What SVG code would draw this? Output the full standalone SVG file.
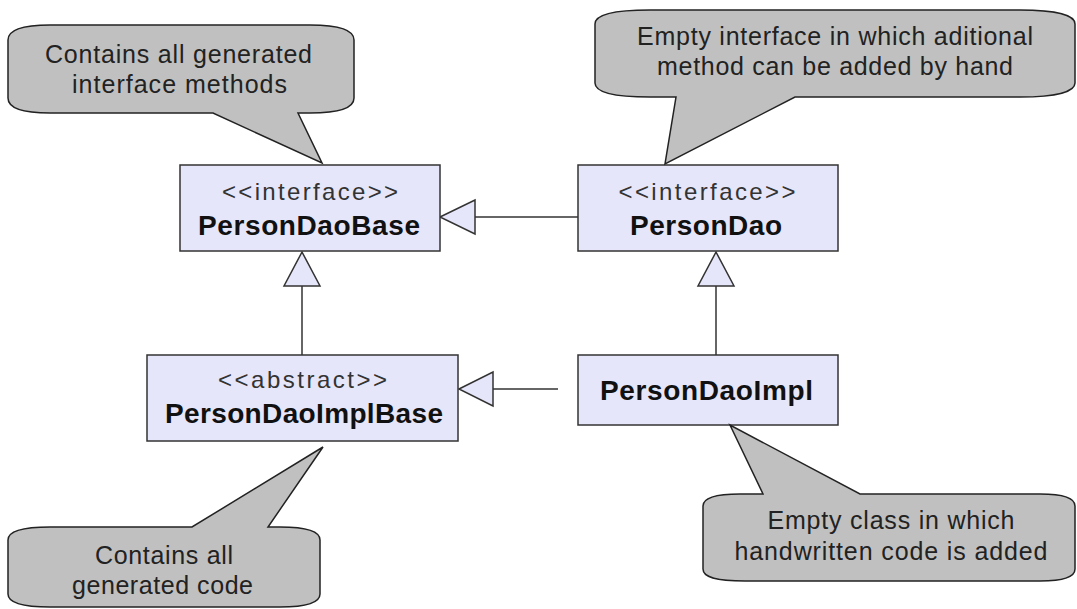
<svg xmlns="http://www.w3.org/2000/svg" width="1077" height="609" viewBox="0 0 1077 609">
<style>
.box{fill:#E6E6FA;stroke:#333;stroke-width:1.5}
.tri{fill:#E6E6FA;stroke:#333;stroke-width:1.5;stroke-linejoin:miter}
.ln{stroke:#333;stroke-width:1.5;fill:none}
.note{fill:#C0C0C0;stroke:#222;stroke-width:1.5;stroke-linejoin:miter}
.st{font-family:"Liberation Sans",Arial,sans-serif;font-size:24px;fill:#333;text-anchor:middle}
.nm{font-family:"Liberation Sans",Arial,sans-serif;font-size:28px;font-weight:bold;fill:#111;text-anchor:middle}
.nt{font-family:"Liberation Sans",Arial,sans-serif;font-size:25px;fill:#222;text-anchor:middle}
</style>
<rect width="1077" height="609" fill="#fff"/>
<g id="connectors">
<line class="ln" x1="475" y1="217" x2="578" y2="217"/>
<polygon class="tri" points="440,217 475,200 475,234"/>
<line class="ln" x1="302" y1="286" x2="302" y2="355"/>
<polygon class="tri" points="302,252 284,286 320,286"/>
<line class="ln" x1="716" y1="286" x2="716" y2="355"/>
<polygon class="tri" points="716,252 698,286 734,286"/>
<line class="ln" x1="493" y1="389" x2="558" y2="389"/>
<polygon class="tri" points="459,389 493,372 493,406"/>
</g>
<g id="PersonDaoBase">
<rect class="box" x="180" y="165" width="260" height="86"/>
<text class="st" x="310" y="200" textLength="176" lengthAdjust="spacing">&lt;&lt;interface&gt;&gt;</text>
<text class="nm" x="309" y="235" textLength="222" lengthAdjust="spacing">PersonDaoBase</text>
</g>
<g id="PersonDao">
<rect class="box" x="578" y="165" width="260" height="86"/>
<text class="st" x="707" y="200" textLength="177" lengthAdjust="spacing">&lt;&lt;interface&gt;&gt;</text>
<text class="nm" x="706" y="235" textLength="152" lengthAdjust="spacing">PersonDao</text>
</g>
<g id="PersonDaoImplBase">
<rect class="box" x="147" y="355" width="311" height="86"/>
<text class="st" x="302.5" y="388" textLength="169" lengthAdjust="spacing">&lt;&lt;abstract&gt;&gt;</text>
<text class="nm" x="304" y="423" textLength="278" lengthAdjust="spacing">PersonDaoImplBase</text>
</g>
<g id="PersonDaoImpl">
<rect class="box" x="578" y="355" width="260" height="70"/>
<text class="nm" x="706.5" y="400" textLength="213" lengthAdjust="spacing">PersonDaoImpl</text>
</g>
<g id="note1">
<path class="note" d="M50,25 H310 C340,25 354,30 354,40 V98 C354,108 340,113 310,113 H298 L322,163 L213,113 H50 C22,113 8,108 8,98 V40 C8,30 22,25 50,25 Z"/>
<text class="nt" x="178.5" y="63" textLength="267" lengthAdjust="spacing">Contains all generated</text>
<text class="nt" x="179.5" y="93" textLength="215" lengthAdjust="spacing">interface methods</text>
</g>
<g id="note2">
<path class="note" d="M650,10 H1020 C1055,10 1075,15 1075,24 V83 C1075,92 1055,97 1020,97 H795 L665,164 L676,97 H650 C612,97 595,92 595,83 V24 C595,15 612,10 650,10 Z"/>
<text class="nt" x="835" y="45" textLength="396" lengthAdjust="spacing">Empty interface in which aditional</text>
<text class="nt" x="835" y="75" textLength="356" lengthAdjust="spacing">method can be added by hand</text>
</g>
<g id="note3">
<path class="note" d="M50,527 H192 L323,447 L268,527 H280 C308,527 320,532 320,540 V594 C320,602 308,607 280,607 H50 C20,607 8,602 8,594 V540 C8,532 20,527 50,527 Z"/>
<text class="nt" x="164" y="564" textLength="138" lengthAdjust="spacing">Contains all</text>
<text class="nt" x="162.5" y="594" textLength="181" lengthAdjust="spacing">generated code</text>
</g>
<g id="note4">
<path class="note" d="M740,494 H763 L730,425 L860,494 H1040 C1065,494 1075,498 1075,506 V569 C1075,577 1065,581 1040,581 H745 C715,581 703,577 703,569 V506 C703,498 715,494 740,494 Z"/>
<text class="nt" x="891" y="529" textLength="247" lengthAdjust="spacing">Empty class in which</text>
<text class="nt" x="891" y="560" textLength="313" lengthAdjust="spacing">handwritten code is added</text>
</g>
</svg>
